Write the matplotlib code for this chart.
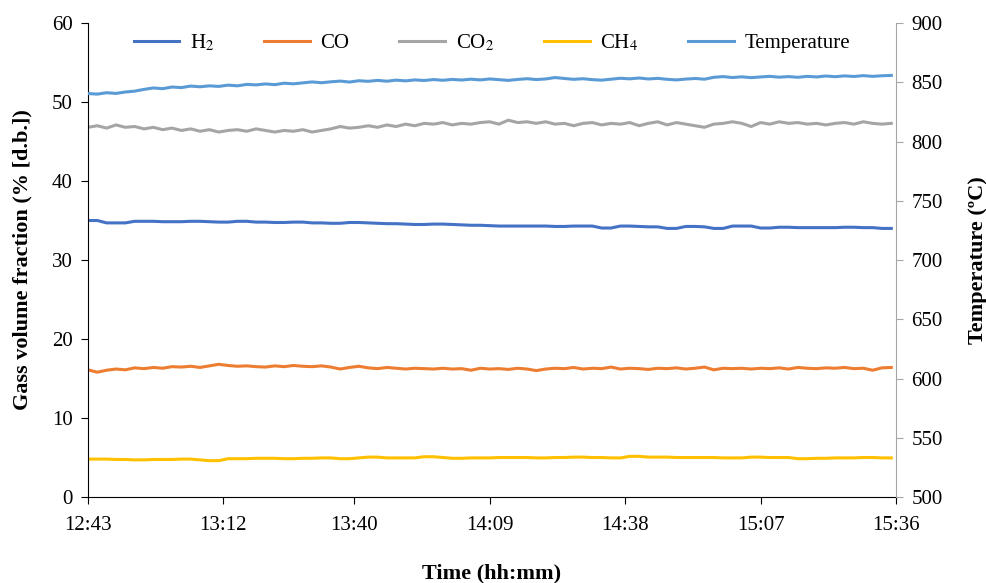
import numpy as np
import matplotlib
matplotlib.use("Agg")
import matplotlib.pyplot as plt

plt.rcParams["font.family"] = ["Liberation Serif", "DejaVu Serif"]
plt.rcParams["mathtext.fontset"] = "stix"

# minutes after 12:43, sampled every 2 min
minutes = np.arange(0, 174, 2)

h2 = [35.0, 35.0, 34.7, 34.7, 34.7, 34.9, 34.9, 34.9, 34.85, 34.85,
      34.85, 34.9, 34.9, 34.85, 34.8, 34.8, 34.9, 34.9, 34.8, 34.8,
      34.75, 34.75, 34.8, 34.8, 34.7, 34.7, 34.65, 34.65, 34.75, 34.75,
      34.7, 34.65, 34.6, 34.6, 34.55, 34.5, 34.5, 34.55, 34.55, 34.5,
      34.45, 34.4, 34.4, 34.35, 34.3, 34.3, 34.3, 34.3, 34.3, 34.3,
      34.25, 34.25, 34.3, 34.3, 34.3, 34.05, 34.05, 34.3, 34.3, 34.25,
      34.2, 34.2, 34.0, 34.0, 34.25, 34.25, 34.2, 34.0, 34.0, 34.3,
      34.3, 34.3, 34.05, 34.05, 34.15, 34.15, 34.1, 34.1, 34.1, 34.1,
      34.1, 34.15, 34.15, 34.1, 34.1, 34.0, 34.0]

co = [16.1, 15.8, 16.05, 16.2, 16.1, 16.35, 16.25, 16.4, 16.3, 16.5,
      16.45, 16.55, 16.4, 16.6, 16.8, 16.65, 16.55, 16.6, 16.5, 16.45,
      16.6, 16.5, 16.65, 16.55, 16.5, 16.6, 16.45, 16.2, 16.4, 16.55,
      16.35, 16.25, 16.4, 16.3, 16.2, 16.3, 16.25, 16.2, 16.3, 16.2,
      16.25, 16.05, 16.3, 16.2, 16.25, 16.15, 16.3, 16.2, 16.0, 16.2,
      16.3, 16.25, 16.4, 16.2, 16.3, 16.25, 16.45, 16.2, 16.3, 16.25,
      16.15, 16.3, 16.25, 16.35, 16.2, 16.3, 16.45, 16.1, 16.3, 16.25,
      16.3, 16.2, 16.3, 16.25, 16.35, 16.2, 16.4, 16.3, 16.25, 16.35,
      16.3, 16.4, 16.25, 16.3, 16.05, 16.35, 16.4]

co2 = [46.8, 47.0, 46.7, 47.1, 46.8, 46.9, 46.6, 46.8, 46.5, 46.7,
       46.4, 46.6, 46.3, 46.5, 46.2, 46.4, 46.5, 46.3, 46.6, 46.4,
       46.2, 46.4, 46.3, 46.5, 46.2, 46.4, 46.6, 46.9, 46.7, 46.8,
       47.0, 46.8, 47.1, 46.9, 47.2, 47.0, 47.3, 47.2, 47.4, 47.1,
       47.3, 47.2, 47.4, 47.5, 47.2, 47.7, 47.4, 47.5, 47.3, 47.5,
       47.2, 47.3, 47.0, 47.3, 47.4, 47.1, 47.3, 47.2, 47.4, 47.0,
       47.3, 47.5, 47.1, 47.4, 47.2, 47.0, 46.8, 47.2, 47.3, 47.5,
       47.3, 46.9, 47.4, 47.2, 47.5, 47.3, 47.4, 47.2, 47.3, 47.1,
       47.3, 47.4, 47.2, 47.5, 47.3, 47.2, 47.3]

ch4 = [4.8, 4.8, 4.8, 4.75, 4.75, 4.7, 4.7, 4.75, 4.75, 4.75,
       4.8, 4.8, 4.7, 4.6, 4.6, 4.85, 4.85, 4.85, 4.9, 4.9,
       4.9, 4.85, 4.85, 4.9, 4.9, 4.95, 4.95, 4.85, 4.85, 4.95,
       5.05, 5.05, 4.95, 4.95, 4.95, 4.95, 5.1, 5.1, 5.0, 4.9,
       4.9, 4.95, 4.95, 4.95, 5.0, 5.0, 5.0, 5.0, 4.95, 4.95,
       5.0, 5.0, 5.05, 5.05, 5.0, 5.0, 4.95, 4.95, 5.15, 5.15,
       5.05, 5.05, 5.05, 5.0, 5.0, 5.0, 5.0, 5.0, 4.95, 4.95,
       4.95, 5.05, 5.05, 5.0, 5.0, 5.0, 4.85, 4.85, 4.9, 4.9,
       4.95, 4.95, 4.95, 5.0, 5.0, 4.95, 4.95]

temp = [840.5, 840.0, 841.2, 840.6, 841.8, 842.5, 844.0, 845.2, 844.6, 846.0,
        845.5, 846.8, 846.2, 847.0, 846.5, 847.6, 847.0, 848.2, 847.8, 848.6,
        848.0, 849.2, 848.7, 849.5, 850.3, 849.6, 850.4, 851.0, 850.2, 851.3,
        850.8, 851.6, 850.9, 851.8, 851.2, 852.0, 851.5, 852.3, 851.7, 852.4,
        851.9, 852.6, 852.0, 852.8, 852.2, 851.6, 852.4, 853.0, 852.3, 852.8,
        854.0, 853.2, 852.5, 853.0, 852.2, 851.8, 852.6, 853.4, 852.9, 853.6,
        852.8, 853.3, 852.5, 852.0, 852.7, 853.2, 852.6, 854.2, 854.8, 854.0,
        854.6, 853.9, 854.5, 855.0, 854.3, 854.8, 854.2, 855.0, 854.5, 855.3,
        854.7, 855.4, 854.9, 855.6, 855.0, 855.5, 855.8]

tick_minutes = [0, 29, 57, 86, 115, 144, 173]
tick_labels = ["12:43", "13:12", "13:40", "14:09", "14:38", "15:07", "15:36"]

fig = plt.figure(figsize=(9.86, 5.83), dpi=100)
ax = fig.add_axes([0.0892, 0.1475, 0.8195, 0.813])
ax2 = ax.twinx()

l1, = ax.plot(minutes, h2, color="#4472C4", lw=2.2, label="H$_2$")
l2, = ax.plot(minutes, co, color="#ED7D31", lw=2.2, label="CO")
l3, = ax.plot(minutes, co2, color="#A5A5A5", lw=2.2, label="CO$_2$")
l4, = ax.plot(minutes, ch4, color="#FFC000", lw=2.2, label="CH$_4$")
l5, = ax2.plot(minutes, temp, color="#5B9BD5", lw=2.2, label="Temperature")

ax.set_xlim(0, 173)
ax.set_ylim(0, 60)
ax2.set_ylim(500, 900)
ax.set_xticks(tick_minutes)
ax.set_xticklabels(tick_labels)
ax.set_yticks(range(0, 61, 10))
ax2.set_yticks(range(500, 901, 50))

for a in (ax, ax2):
    a.spines["top"].set_visible(False)
ax.spines["right"].set_visible(False)
ax2.spines["left"].set_visible(False)
ax2.spines["bottom"].set_visible(False)
ax2.spines["right"].set_color("#A6A6A6")

ax.tick_params(axis="both", labelsize=15, length=5, direction="out", pad=6)
ax.tick_params(axis="x", pad=9)
ax2.tick_params(axis="y", labelsize=15, length=5, color="#A6A6A6", pad=6)

ax.set_xlabel("Time (hh:mm)", fontsize=16, fontweight="bold", labelpad=20)
ax.set_ylabel("Gass volume fraction (% [d.b.])", fontsize=16, fontweight="bold", labelpad=14)
ax2.set_ylabel("Temperature (ºC)", fontsize=16, fontweight="bold", labelpad=18)

ax.legend(handles=[l1, l2, l3, l4, l5], loc="center", bbox_to_anchor=(0.5, 0.958),
          ncol=5, frameon=False, fontsize=15, handlelength=2.2,
          handletextpad=0.5, columnspacing=2.4)

fig.savefig("out.png", dpi=100)
